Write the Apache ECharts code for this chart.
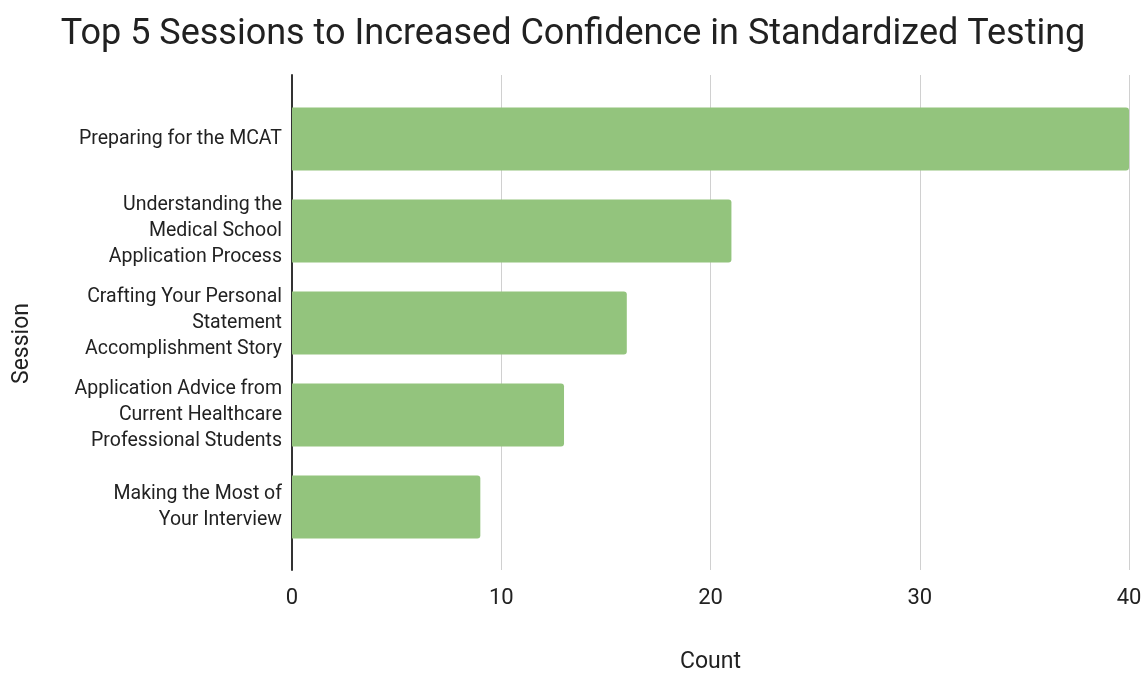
<!DOCTYPE html>
<html>
<head>
<meta charset="utf-8">
<script src="https://cdn.jsdelivr.net/npm/echarts@6/dist/echarts.min.js"></script>
<style>html,body{margin:0;padding:0;background:#fff}#c{width:1146px;height:673px}</style>
</head>
<body>
<div id="c"></div>
<script>
const titleText = 'Top 5 Sessions to Increased Confidence in Standardized Testing';
const categories = [
  'Preparing for the MCAT',
  'Understanding the\nMedical School\nApplication Process',
  'Crafting Your Personal\nStatement\nAccomplishment Story',
  'Application Advice from\nCurrent Healthcare\nProfessional Students',
  'Making the Most of\nYour Interview'
];
const counts = [40, 21, 16, 13, 9];
const xMin = 0, xMax = 40, xStep = 10;
const xAxisName = 'Count';
const yAxisName = 'Session';

const chart = echarts.init(document.getElementById('c'));
const font = 'Roboto, "Liberation Sans", sans-serif';
chart.setOption({
  animation: false,
  title: {
    text: titleText, left: 'center', top: 12,
    textStyle: {fontFamily: font, fontSize: 36, fontWeight: 'normal', color: '#212121'}
  },
  grid: [
    {left: 292, right: 17, top: 93, height: 460, outerBoundsMode: 'none', containLabel: false},
    {left: 292, right: 17, top: 75, height: 495, outerBoundsMode: 'none', containLabel: false}
  ],
  xAxis: [
    {gridIndex: 0, type: 'value', min: xMin, max: xMax, interval: xStep, show: false},
    {gridIndex: 1, type: 'value', min: xMin, max: xMax, interval: xStep,
     name: xAxisName, nameLocation: 'middle', nameGap: 81,
     nameTextStyle: {fontFamily: font, fontSize: 23, color: '#222'},
     axisLine: {show: false}, axisTick: {show: false},
     axisLabel: {fontFamily: font, fontSize: 22, color: '#222', margin: 17},
     splitLine: {lineStyle: {color: '#d0d0d0', width: 1}}}
  ],
  yAxis: [
    {gridIndex: 0, type: 'category', data: categories, inverse: true,
     axisLine: {show: false}, axisTick: {show: false},
     axisLabel: {fontFamily: font, fontSize: 19.5, color: '#222', margin: 10, lineHeight: 26, align: 'right', padding: [8, 0, 0, 0]}},
    {gridIndex: 1, type: 'value', min: 0, max: 1,
     name: yAxisName, nameLocation: 'middle', nameGap: 258, nameRotate: 90,
     nameTextStyle: {fontFamily: font, fontSize: 23, color: '#222', padding: [0, 42, 0, 0]},
     axisLine: {show: true, lineStyle: {color: '#333', width: 2}},
     axisTick: {show: false}, axisLabel: {show: false}, splitLine: {show: false}}
  ],
  series: [{
    type: 'bar', xAxisIndex: 0, yAxisIndex: 0, data: counts,
    barWidth: 63,
    itemStyle: {color: '#93c47d', borderRadius: [0, 3, 3, 0]},
    z: 3
  }]
});
</script>
</body>
</html>
